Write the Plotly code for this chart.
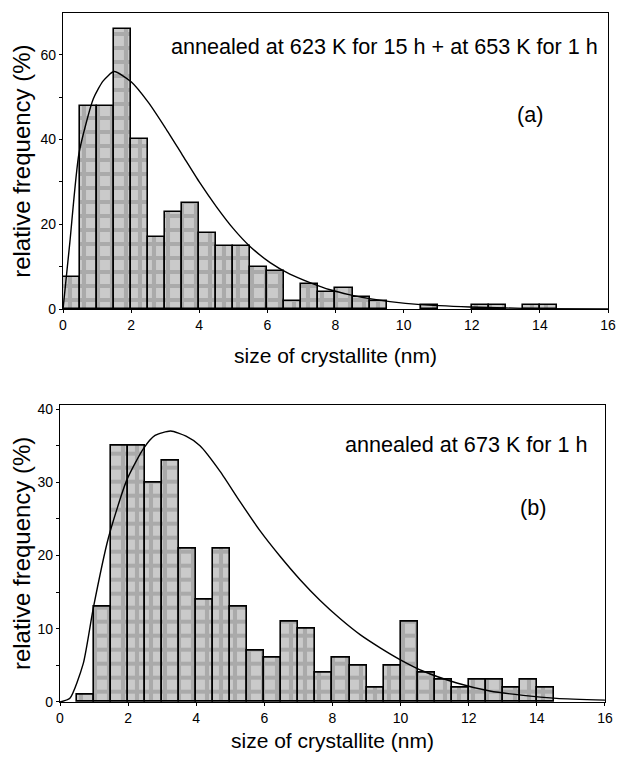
import plotly.graph_objects as go
from plotly.subplots import make_subplots

# ---- data: panel (a) ----
bins_a = [0, 0.5, 1, 1.5, 2, 2.5, 3, 3.5, 4, 4.5, 5, 5.5, 6, 6.5, 7, 7.5, 8, 8.5, 9, 10.5, 12, 12.5, 13.5, 14]
freq_a = [7.5, 48, 48, 66, 40, 17, 23, 25, 18, 15, 15, 10, 9, 2, 6, 4, 5, 3, 2, 1, 1, 1, 1, 1]
fit_x_a = [0, 0.2, 0.47, 0.89, 1.18, 1.5, 2.0, 2.5, 3.0, 3.5, 4.0, 4.5, 5.0, 5.49, 6.08,
           6.66, 7.25, 7.84, 8.43, 9.0, 9.6, 10.5, 11.95, 13, 14, 16]
fit_y_a = [0, 15.7, 36.8, 49.6, 53.8, 56, 53.6, 48.8, 42.8, 36.4, 30.0, 24.2, 19.0, 14.8, 11,
           8.3, 6.3, 4.6, 3.4, 2.5, 1.8, 1.1, 0.55, 0.3, 0.15, 0.05]

# ---- data: panel (b) ----
bins_b = [0.5, 1, 1.5, 2, 2.5, 3, 3.5, 4, 4.5, 5, 5.5, 6, 6.5, 7, 7.5, 8, 8.5, 9, 9.5, 10, 10.5,
          11, 11.5, 12, 12.5, 13, 13.5, 14]
freq_b = [1, 13, 35, 35, 30, 33, 21, 14, 21, 13, 7, 6, 11, 10, 4, 6, 5, 2, 5, 11, 4, 3, 2, 3, 3, 2, 3, 2]
fit_x_b = [0, 0.29, 0.68, 0.98, 1.42, 1.96, 2.45, 2.79, 3.25, 3.7, 4.11, 4.70, 5.28, 5.87, 6.46, 7.05,
           7.63, 8.22, 8.81, 9.4, 9.98, 10.67, 11.65, 12.62, 13.6, 14.58, 16]
fit_y_b = [0, 0.5, 5.2, 12.9, 22.4, 30.3, 34.6, 36.4, 37.0, 36.3, 35.0, 31.5, 27.4, 23.4, 19.9, 16.7,
           13.9, 11.4, 9.2, 7.4, 5.8, 4.2, 2.6, 1.5, 0.9, 0.5, 0.25]

x_ticks = [0, 2, 4, 6, 8, 10, 12, 14, 16]
label_a = "annealed at 623 K for 15 h + at 653 K for 1 h"
label_b = "annealed at 673 K for 1 h"
x_title = "size of crystallite (nm)"
y_title = "relative frequency (%)"

FONT = "Liberation Sans, Arial, sans-serif"
BIN_W = 0.5

fig = make_subplots(rows=2, cols=1)

bar_style = dict(
    width=BIN_W, offset=0,
    marker=dict(color="#b8b8b8",
                line=dict(color="black", width=1.6),
                pattern=dict(shape="+", fgcolor="#8a8a8a", bgcolor="#cacaca",
                             size=14, solidity=0.5)),
    showlegend=False,
)
line_style = dict(color="black", width=1.4, shape="spline", smoothing=0.6)

fig.add_trace(go.Bar(x=bins_a, y=freq_a, **bar_style), row=1, col=1)
fig.add_trace(go.Scatter(x=fit_x_a, y=fit_y_a, mode="lines", line=line_style, showlegend=False), row=1, col=1)
fig.add_trace(go.Bar(x=bins_b, y=freq_b, **bar_style), row=2, col=1)
fig.add_trace(go.Scatter(x=fit_x_b, y=fit_y_b, mode="lines", line=line_style, showlegend=False), row=2, col=1)

axis_common = dict(showline=True, linecolor="black", linewidth=1.2, mirror=True,
                   showgrid=False, zeroline=False, ticks="outside", ticklen=3,
                   tickcolor="black", tickfont=dict(family=FONT, size=14, color="black"))

fig.update_xaxes(**axis_common, range=[0, 16], tickvals=x_ticks,
                 title=dict(text=x_title, font=dict(family=FONT, size=21, color="black")))
fig.update_xaxes(domain=[0.0055, 1.0], title_standoff=16, row=1, col=1)
fig.update_xaxes(domain=[0.0, 0.9945], title_standoff=9, row=2, col=1)

fig.update_yaxes(**axis_common,
                 title=dict(text=y_title, font=dict(family=FONT, size=24, color="black"), standoff=4))
fig.update_yaxes(domain=[0.570, 1.0], range=[0, 69.8], tickvals=[0, 20, 40, 60],
                 minor=dict(tickvals=[10, 30, 50], ticks="outside", ticklen=3, tickcolor="black"),
                 row=1, col=1)
fig.update_yaxes(domain=[0.0, 0.4315], range=[0, 40.6], tickvals=[0, 10, 20, 30, 40],
                 minor=dict(tickvals=[5, 15, 25, 35], ticks="outside", ticklen=3, tickcolor="black"),
                 row=2, col=1)

ann_font = dict(family=FONT, size=21.6, color="black")
fig.add_annotation(x=15.77, y=61.8, xref="x", yref="y", text=label_a, showarrow=False,
                   xanchor="right", yanchor="middle", font=ann_font)
fig.add_annotation(x=13.71, y=45.9, xref="x", yref="y", text="(a)", showarrow=False,
                   xanchor="center", yanchor="middle", font=ann_font)
fig.add_annotation(x=15.56, y=35.1, xref="x2", yref="y2", text=label_b, showarrow=False,
                   xanchor="right", yanchor="middle", font=ann_font)
fig.add_annotation(x=13.89, y=26.5, xref="x2", yref="y2", text="(b)", showarrow=False,
                   xanchor="center", yanchor="middle", font=ann_font)

# page body has an 8px margin: size the figure so it fits the 625x760 window
fig.update_layout(width=609, height=744, margin=dict(l=52, r=9, t=1, b=50),
                  plot_bgcolor="white", paper_bgcolor="white", bargap=0,
                  font=dict(family=FONT, color="black"))

fig.write_html("out.html")
